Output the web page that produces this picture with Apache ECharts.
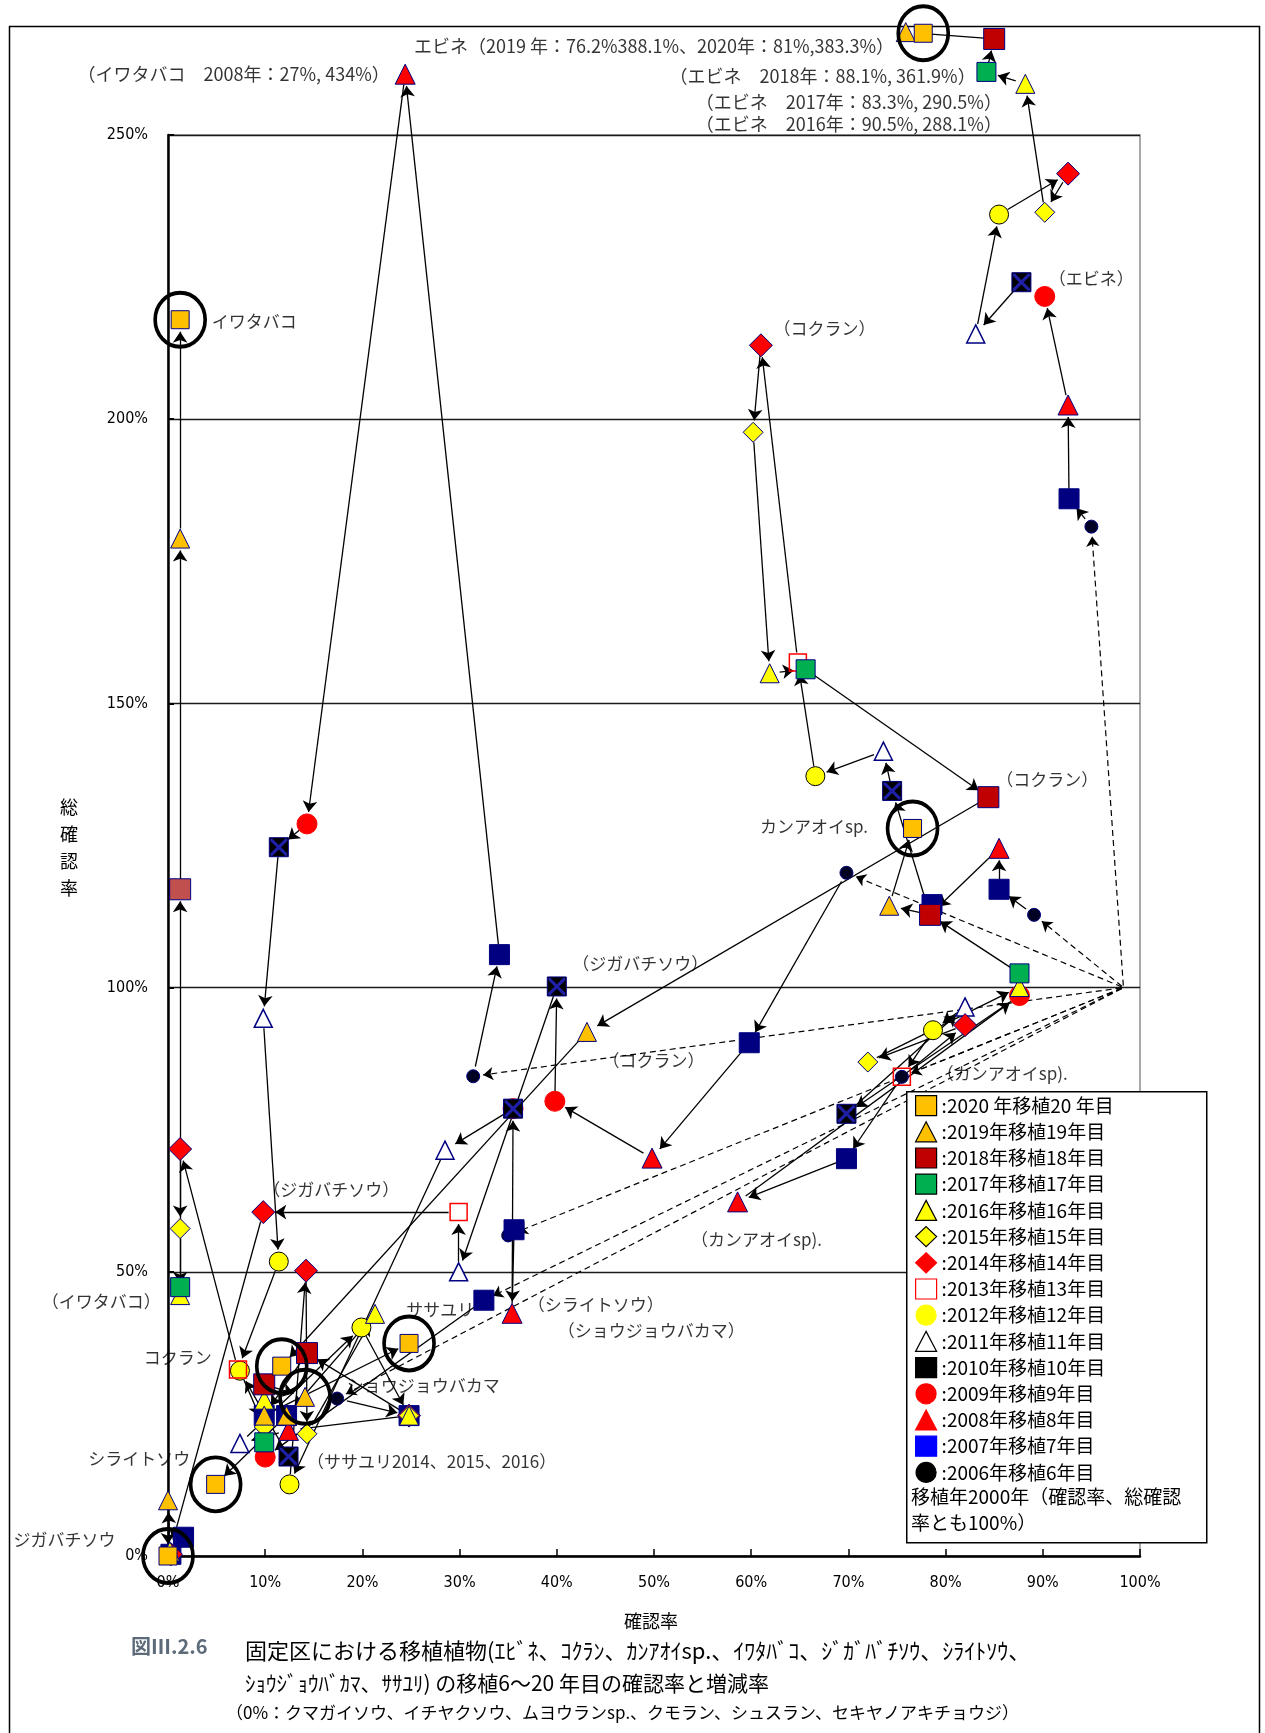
<!DOCTYPE html>
<html><head><meta charset="utf-8">
<script src="https://cdn.jsdelivr.net/npm/echarts@6/dist/echarts.min.js"></script>
<style>html,body{margin:0;padding:0;background:#fff}#c{width:1265px;height:1733px}</style>
</head><body><div id="c"></div>
<script>
// ---------------- DATA ----------------
const YEARS = [2006,2007,2008,2009,2010,2011,2012,2013,2014,2015,2016,2017,2018,2019,2020];
const LEGEND_LABELS = [':2006年移植6年目',':2007年移植7年目',':2008年移植8年目',':2009年移植9年目',':2010年移植10年目',':2011年移植11年目',':2012年移植12年目',':2013年移植13年目',':2014年移植14年目',':2015年移植15年目',':2016年移植16年目',':2017年移植17年目',':2018年移植18年目',':2019年移植19年目',':2020 年移植20 年目'];
const X_TICKS = [0,10,20,30,40,50,60,70,80,90,100];
const Y_TICKS = [0,50,100,150,200,250];
// 2000 transplant start (確認率、総確認率とも100%)
const ORIGIN = [98.3, 100];

// [確認率 %, 総確認率 %] per year 2006..2020 (null = not shown)
const ebine = [[95.0,181.1],[92.7,186.0],[92.6,202.5],[90.2,221.6],[87.8,224.1],[83.1,215.0],[85.5,236.0],null,[92.6,243.2],[90.2,236.4],[88.2,259.0],[84.2,261.1],[85.0,266.9],[75.9,268.1],[77.7,267.9]];
const kokuran = [[89.1,112.8],[85.5,117.3],[85.5,124.5],[78.4,112.8],[74.5,134.6],[73.6,141.6],[66.6,137.2],[64.8,157.2],[61.0,213.0],[60.2,197.7],[61.9,155.3],[65.6,156.0],[84.4,133.5],[43.1,92.2],[11.7,33.4]];
const kanaoi = [[75.5,84.3],[69.8,69.9],[58.6,62.3],[87.6,98.6],[69.8,77.8],[82.0,96.6],[78.7,92.5],[75.5,84.3],[82.0,93.4],[72.0,86.9],[87.6,100.1],[87.6,102.5],[78.4,112.8],[74.2,114.4],[76.6,128.0]];
const iwatabako = [[31.4,84.4],[34.1,105.8],[24.4,260.7],[14.3,128.8],[11.4,124.7],[9.8,94.6],[11.4,51.8],[7.2,32.8],[1.25,71.6],[1.25,57.6],[1.25,45.9],[1.25,47.3],[1.25,117.3],[1.25,179.0],[1.25,217.5]];
const jigabachi = [[69.8,120.2],[59.8,90.3],[49.8,70.0],[39.8,80.0],[40.0,100.2],[29.9,50.0],null,[29.9,60.5],[9.8,60.5],null,[0.2,0.8],null,null,[0.0,9.8],[0.0,0.0]];
const sasayuri = [[17.4,27.7],[24.8,24.7],[12.4,22.1],null,null,[7.4,19.8],[19.9,40.2],null,[24.8,24.7],[24.8,24.7],[24.8,24.7],null,[14.3,35.7],[9.9,24.7],[24.8,37.4]];
const shiraito = [[35.0,56.4],[35.6,57.4],[35.4,42.7],[35.5,78.7],[35.5,78.7],[28.5,71.4],[12.5,12.6],null,[14.2,50.2],[14.3,21.5],[21.3,42.6],null,null,[12.2,24.7],[4.9,12.6]];
const shoujou = [null,[32.5,45.0],null,[10.0,17.4],[12.4,17.5],null,[7.4,32.6],null,null,[9.9,22.7],[9.9,27.5],[9.9,20.0],[9.9,30.2],[14.1,28.0],null];
// markers of other plants (0% species etc.) : [year, x, y]
const extraPoints = [[2007,9.9,24.7],[2007,12.2,24.7],[2007,1.6,3.3],[2007,0.3,0.3],[2014,0.3,0.3],[2007,78.6,114.6]];

const SPECIES = [
  {key:'ebine', pts: ebine}, {key:'kokuran', pts: kokuran}, {key:'kanaoi', pts: kanaoi},
  {key:'iwatabako', pts: iwatabako}, {key:'jigabachi', pts: jigabachi}, {key:'sasayuri', pts: sasayuri},
  {key:'shiraito', pts: shiraito}, {key:'shoujou', pts: shoujou}
];

// annotation texts: [x %, y %, text, font size]
const annotations = [
  [25.3,265.6,'エビネ（2019 年：76.2%388.1%、2020年：81%,383.3%）',18],
  [-9.3,260.7,'（イワタバコ　2008年：27%, 434%）',18],
  [51.6,260.3,'（エビネ　2018年：88.1%, 361.9%）',18],
  [54.3,255.8,'（エビネ　2017年：83.3%, 290.5%）',18],
  [54.3,251.9,'（エビネ　2016年：90.5%, 288.1%）',18],
  [4.5,217.1,'イワタバコ',17],
  [90.6,224.7,'（エビネ）',17],
  [62.3,216.0,'（コクラン）',17],
  [85.2,136.6,'（コクラン）',17],
  [60.9,128.4,'カンアオイsp.',17],
  [41.6,104.3,'（ジガバチソウ）',17],
  [44.7,87.2,'（コクラン）',17],
  [79.1,84.8,'（カンアオイsp).',17],
  [9.8,64.4,'（ジガバチソウ）',17],
  [53.8,55.6,'（カンアオイsp).',17],
  [-13.0,44.7,'（イワタバコ）',17],
  [24.5,43.4,'ササユリ',17],
  [37.0,44.2,'（シライトソウ）',17],
  [40.1,39.7,'（ショウジョウバカマ）',17],
  [-2.5,35.0,'コクラン',17],
  [18.4,30.0,'ショウジョウバカマ',17],
  [-8.2,17.1,'シライトソウ',17],
  [14.3,16.6,'（ササユリ2014、2015、2016）',17],
  [-15.9,2.9,'ジガバチソウ',17]
];

// ---------------- STYLE ----------------
const JP = "'Noto Sans CJK JP','Noto Sans',sans-serif";
const NUM = "'Liberation Sans Narrow','DejaVu Sans Condensed','Liberation Sans',sans-serif";
const yearStyle = {
  2020:{symbol:'rect',size:18,color:'#FFC000',border:'#000080'},
  2019:{symbol:'triangle',size:19,color:'#FFC000',border:'#000080'},
  2018:{symbol:'rect',size:21,color:'#C00000',border:'#000080'},
  2017:{symbol:'rect',size:19,color:'#00B050',border:'#000080'},
  2016:{symbol:'triangle',size:19,color:'#FFFF00',border:'#000080'},
  2015:{symbol:'diamond',size:20,color:'#FFFF00',border:'#000080'},
  2014:{symbol:'diamond',size:23,color:'#FF0000',border:'#000080'},
  2013:{symbol:'rect',size:17,color:'rgba(255,255,255,0)',border:'#FF0000',bw:1.5},
  2012:{symbol:'circle',size:19,color:'#FFFF00',border:'#000000'},
  2011:{symbol:'triangle',size:18,color:'#FFFFFF',border:'#000080',bw:1.5},
  2010:{symbol:'rect',size:19,color:'#000000',border:'#000080'},
  2009:{symbol:'circle',size:20,color:'#FF0000',border:'#FF0000'},
  2008:{symbol:'triangle',size:20,color:'#FF0000',border:'#000080'},
  2007:{symbol:'rect',size:20,color:'#000080',border:'#000080'},
  2006:{symbol:'circle',size:13,color:'#000022',border:'#000080'}
};
const legendIcon = {
  2020:{icon:'rect',color:'#FFC000',border:'#000'},
  2019:{icon:'triangle',color:'#FFC000',border:'#000'},
  2018:{icon:'rect',color:'#C00000',border:'#000'},
  2017:{icon:'rect',color:'#00B050',border:'#000'},
  2016:{icon:'triangle',color:'#FFFF00',border:'#000'},
  2015:{icon:'diamond',color:'#FFFF00',border:'#000'},
  2014:{icon:'diamond',color:'#FF0000',border:'#FF0000'},
  2013:{icon:'rect',color:'#FFFFFF',border:'#FF0000'},
  2012:{icon:'circle',color:'#FFFF00',border:'#FFFF00'},
  2011:{icon:'triangle',color:'#FFFFFF',border:'#000'},
  2010:{icon:'rect',color:'#000000',border:'#000'},
  2009:{icon:'circle',color:'#FF0000',border:'#FF0000'},
  2008:{icon:'triangle',color:'#FF0000',border:'#FF0000'},
  2007:{icon:'rect',color:'#0000FF',border:'#0000FF'},
  2006:{icon:'circle',color:'#000000',border:'#000'}
};

// ---------------- BUILD ----------------
const chart = echarts.init(document.getElementById('c'));

const scatterSeries = [];
YEARS.forEach((yr, i) => {
  const st = yearStyle[yr];
  const data = [];
  SPECIES.forEach(sp => {
    const p = sp.pts[i];
    if (p) {
      const item = {value: p};
      if (sp.key === 'iwatabako' && yr === 2018) item.itemStyle = {color: '#C0504D'};
      data.push(item);
    }
  });
  extraPoints.forEach(e => { if (e[0] === yr) data.push({value: [e[1], e[2]]}); });
  scatterSeries.push({
    type:'scatter', name: LEGEND_LABELS[i], data, symbol: st.symbol, symbolSize: st.size,
    clip:false, z:3, silent:true, animation:false,
    itemStyle:{color: st.color, borderColor: st.border, borderWidth: st.bw || 1, opacity:1},
    emphasis:{disabled:true}
  });
  if (yr === 2010) {
    scatterSeries.push({
      type:'scatter', name:'x2010', data: data.map(d => ({value: d.value})),
      symbol:'path://M0,0L1.3,0L10,8.7L10,10L8.7,10L0,1.3Z M10,0L10,1.3L1.3,10L0,10L0,8.7L8.7,0Z',
      symbolSize:17, clip:false, z:3, silent:true, animation:false,
      itemStyle:{color:'#1f1fa8', borderWidth:0, opacity:1}, emphasis:{disabled:true}
    });
  }
});

const ringData = SPECIES.map(sp => {
  for (let i = sp.pts.length - 1; i >= 0; i--) if (sp.pts[i]) return sp.pts[i];
  return null;
}).filter(Boolean);

const annoData = annotations.map(a => ({value:[a[0], a[1]], name:a[2],
  label:{fontSize:a[3]}}));

const legendData = YEARS.slice().reverse().map(yr => {
  const i = YEARS.indexOf(yr); const li = legendIcon[yr];
  return {name: LEGEND_LABELS[i], icon: li.icon,
    itemStyle:{color: li.color, borderColor: li.border, borderWidth: 1.2, opacity:1}};
});

const option = {
  animation:false,
  backgroundColor:'#fff',
  grid:{left:168, right:125, top:135, bottom:177, show:true, borderColor:'#8c8c8c', borderWidth:1.5, backgroundColor:'rgba(0,0,0,0)'},
  xAxis:{type:'value', min:X_TICKS[0], max:X_TICKS[X_TICKS.length-1], interval:10,
    axisLine:{show:true, onZero:false, lineStyle:{color:'#000', width:2.5}},
    axisTick:{show:true, inside:true, length:7, lineStyle:{color:'#000', width:1.5}},
    axisLabel:{formatter:'{value}%', margin:19, fontSize:16, color:'#000', fontFamily:NUM},
    splitLine:{show:false}},
  yAxis:{type:'value', min:Y_TICKS[0], max:Y_TICKS[Y_TICKS.length-1], interval:50,
    axisLine:{show:true, onZero:false, lineStyle:{color:'#000', width:2.5}},
    axisTick:{show:true, inside:true, length:6, lineStyle:{color:'#000', width:2}},
    axisLabel:{formatter:'{value}%', margin:20, fontSize:16, color:'#000', fontFamily:NUM},
    splitLine:{show:true, lineStyle:{color:'#1a1a1a', width:1.4}}},
  legend:{show:true, orient:'vertical', left:915, top:1095, itemWidth:21, itemHeight:20, itemGap:5,
    selectedMode:false, z:8, padding:0,
    textStyle:{fontSize:19, lineHeight:20, color:'#000', fontFamily:JP}, data: legendData},
  graphic:[
    {type:'rect', left:7, top:24, z:0, silent:true, shape:{width:1250, height:1712},
      style:{fill:'none', stroke:'#000', lineWidth:1.5}},
    {type:'rect', left:906, top:1091, z:7, silent:true, shape:{width:300, height:451},
      style:{fill:'#fff', stroke:'#000', lineWidth:1.5}},
    {type:'text', left:911, top:1484, z:9, silent:true,
      style:{text:'移植年2000年（確認率、総確認\n率とも100%）', lineHeight:26, fill:'#000', font:'19px ' + JP}},
    {type:'text', left:60, top:794, z:9, silent:true,
      style:{text:'総\n確\n認\n率', lineHeight:27, fill:'#000', font:'18px ' + JP}},
    {type:'text', left:624, top:1612, z:9, silent:true,
      style:{text:'確認率', fill:'#000', font:'18px ' + JP}},
    {type:'text', left:131, top:1636, z:9, silent:true,
      style:{text:'図Ⅲ.2.6', fill:'#5c6a7a', font:'bold 20px ' + JP}},
    {type:'text', left:245, top:1640, z:9, silent:true,
      style:{text:'固定区における移植植物(ｴﾋﾞﾈ、ｺｸﾗﾝ、ｶﾝｱｵｲsp.、ｲﾜﾀﾊﾞｺ、ｼﾞｶﾞﾊﾞﾁｿｳ、ｼﾗｲﾄｿｳ、', fill:'#000', font:'22px ' + JP}},
    {type:'text', left:245, top:1673, z:9, silent:true,
      style:{text:'ｼｮｳｼﾞｮｳﾊﾞｶﾏ、ｻｻﾕﾘ) の移植6～20 年目の確認率と増減率', fill:'#000', font:'21px ' + JP}},
    {type:'text', left:226, top:1704, z:9, silent:true,
      style:{text:'（0%：クマガイソウ、イチヤクソウ、ムヨウランsp.、クモラン、シュスラン、セキヤノアキチョウジ）', fill:'#000', font:'17px ' + JP}}
  ],
  series:[
    {id:'dashes', type:'lines', coordinateSystem:'cartesian2d', clip:false, z:2, silent:true, animation:false,
      symbol:['none','arrow'], symbolSize:10,
      lineStyle:{color:'#000', width:1.2, type:[6,4], opacity:1}, data:[]},
    {id:'arrows', type:'lines', coordinateSystem:'cartesian2d', clip:false, z:2, silent:true, animation:false,
      symbol:['none','arrow'], symbolSize:11,
      lineStyle:{color:'#000', width:1.3, opacity:1}, data:[]},
    ...scatterSeries,
    {type:'scatter', name:'rings', data: ringData, symbol:'circle', symbolSize:[50,54], clip:false, z:4,
      silent:true, animation:false,
      itemStyle:{color:'rgba(0,0,0,0)', borderColor:'#000', borderWidth:3.8, opacity:1}, emphasis:{disabled:true}},
    {type:'scatter', name:'notes', data: annoData, symbolSize:0, clip:false, z:5, silent:true, animation:false,
      label:{show:true, position:'right', distance:0, formatter: p => p.name, fontSize:17, color:'#000',
        fontFamily:JP}, emphasis:{disabled:true}}
  ]
};
chart.setOption(option);

// arrows between consecutive years (shortened so heads stop at the markers)
function seg(a, b, s0, s1) {
  const pa = chart.convertToPixel({gridIndex:0}, a);
  const pb = chart.convertToPixel({gridIndex:0}, b);
  const dx = pb[0]-pa[0], dy = pb[1]-pa[1];
  const L = Math.hypot(dx, dy);
  if (L < s0 + s1 + 8) return null;
  const ux = dx/L, uy = dy/L;
  return {coords:[
    chart.convertFromPixel({gridIndex:0}, [pa[0]+ux*s0, pa[1]+uy*s0]),
    chart.convertFromPixel({gridIndex:0}, [pb[0]-ux*s1, pb[1]-uy*s1])]};
}
const arrowData = [], dashData = [];
SPECIES.forEach(sp => {
  const pts = sp.pts.filter(Boolean);
  if (!pts.length) return;
  const d = seg(ORIGIN, pts[0], 2, 10); if (d) dashData.push(d);
  for (let i = 1; i < pts.length; i++) { const s = seg(pts[i-1], pts[i], 10, 12); if (s) arrowData.push(s); }
});
chart.setOption({series:[{id:'dashes', data:dashData},{id:'arrows', data:arrowData}]});
</script>
</body></html>
